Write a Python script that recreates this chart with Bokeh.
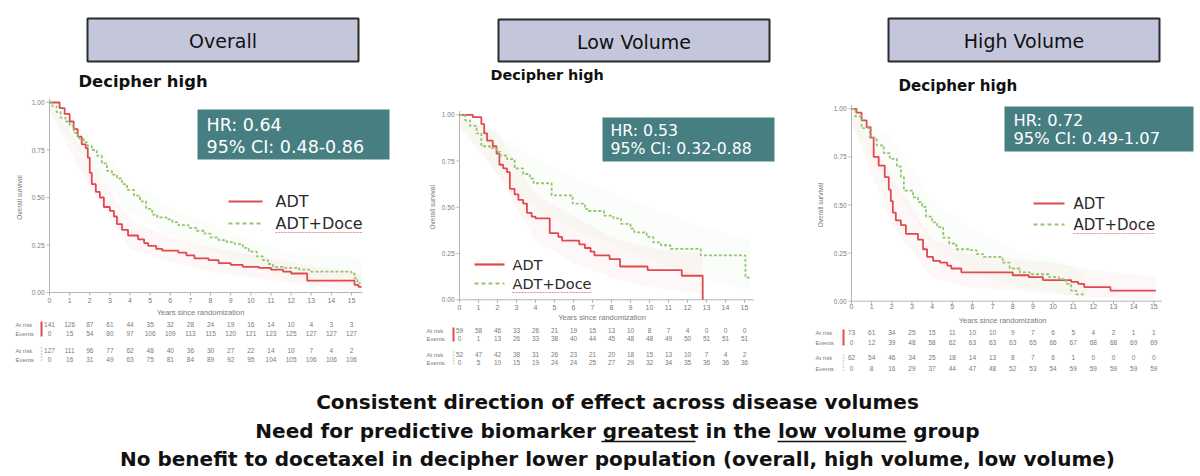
from bokeh.plotting import figure
from bokeh.models import Range1d
from bokeh.core.properties import value
from bokeh.embed import file_html
from bokeh.resources import INLINE

W, H = 1200, 476

# ---------------- data ----------------
years = list(range(16))
year_labels = [str(v) for v in years]
y_ticks = [0.0, 0.25, 0.5, 0.75, 1.0]
y_tick_labels = ["0.00", "0.25", "0.50", "0.75", "1.00"]

panel_titles = ["Overall", "Low Volume", "High Volume"]
subtitle = "Decipher high"
hr_text = ["HR: 0.64", "HR: 0.53", "HR: 0.72"]
ci_text = ["95% CI: 0.48-0.86", "95% CI: 0.32-0.88", "95% CI: 0.49-1.07"]
series_names = ["ADT", "ADT+Doce"]

# Overall
p1_adt_t = [0, 0.5, 0.75, 1.0, 1.2, 1.4, 1.6, 1.8, 1.9, 2.0, 2.1, 2.3, 2.5, 2.7, 3.0, 3.2, 3.35, 3.6, 3.9, 4.4, 4.7, 4.9,
            5.3, 5.6, 6.4, 6.8, 7.2, 7.9, 8.4, 9.0, 9.6, 10.4, 11.0, 11.6, 12.0, 12.8, 15.15, 15.35, 15.5]
p1_adt_s = [1.0, 0.97, 0.94, 0.90, 0.86, 0.82, 0.78, 0.76, 0.71, 0.63, 0.57, 0.53, 0.50, 0.45, 0.43, 0.40, 0.36, 0.33, 0.30,
            0.28, 0.26, 0.245, 0.23, 0.22, 0.21, 0.195, 0.18, 0.17, 0.155, 0.145, 0.135, 0.13, 0.12, 0.11, 0.10, 0.062,
            0.04, 0.03, 0.03]
p1_doce_t = [0, 0.15, 0.35, 0.55, 0.8, 1.0, 1.2, 1.4, 1.7, 1.9, 2.1, 2.35, 2.6, 2.85, 3.1, 3.35, 3.6, 3.85, 4.2, 4.5, 4.8,
             5.1, 5.35, 5.8, 6.1, 6.4, 6.9, 7.3, 7.7, 8.0, 8.4, 8.8, 9.2, 9.6, 9.9, 10.3, 10.6, 10.85, 11.1, 11.6, 12.4,
             12.9, 15.0, 15.15, 15.3, 15.45]
p1_doce_s = [1.0, 0.98, 0.95, 0.92, 0.90, 0.88, 0.84, 0.81, 0.79, 0.77, 0.75, 0.72, 0.68, 0.64, 0.62, 0.60, 0.57, 0.54,
             0.51, 0.48, 0.44, 0.41, 0.395, 0.385, 0.37, 0.355, 0.34, 0.325, 0.31, 0.29, 0.275, 0.265, 0.255, 0.235,
             0.215, 0.19, 0.17, 0.15, 0.135, 0.13, 0.12, 0.11, 0.10, 0.075, 0.05, 0.05]
p1_adt_band_t = [0, 2, 4, 6, 8, 10, 12, 15.5]
p1_adt_band_lo = [0.95, 0.55, 0.23, 0.16, 0.11, 0.08, 0.05, 0.0]
p1_adt_band_hi = [1.0, 0.70, 0.38, 0.29, 0.24, 0.20, 0.16, 0.10]
p1_doce_band_t = [0, 2, 4, 6, 8, 10, 12, 15.5]
p1_doce_band_lo = [0.95, 0.68, 0.42, 0.30, 0.22, 0.14, 0.06, 0.04]
p1_doce_band_hi = [1.0, 0.82, 0.58, 0.45, 0.36, 0.28, 0.20, 0.18]

# Low volume
p2_adt_t = [0, 0.7, 1.15, 1.3, 1.45, 1.75, 1.95, 2.1, 2.3, 2.5, 2.65, 2.9, 3.1, 3.35, 3.55, 3.8, 4.0, 4.75, 5.2, 5.4,
            6.3, 6.6, 6.9, 7.1, 7.9, 8.45, 9.9, 11.7, 12.8]
p2_adt_s = [1.0, 0.987, 0.95, 0.90, 0.86, 0.83, 0.79, 0.73, 0.71, 0.69, 0.60, 0.57, 0.54, 0.52, 0.47, 0.45, 0.44, 0.36,
            0.34, 0.32, 0.30, 0.28, 0.26, 0.24, 0.22, 0.18, 0.16, 0.13, 0.0]
p2_doce_t = [0, 0.3, 0.55, 0.9, 1.15, 1.6, 1.95, 2.15, 2.5, 2.9, 3.35, 3.7, 3.9, 4.85, 5.95, 6.6, 6.75, 7.6, 8.1, 8.5,
             9.0, 9.2, 9.85, 10.2, 10.6, 11.1, 12.7, 15.05, 15.35]
p2_doce_s = [1.0, 0.97, 0.94, 0.90, 0.83, 0.82, 0.80, 0.78, 0.76, 0.71, 0.68, 0.655, 0.63, 0.565, 0.52, 0.49, 0.48,
             0.455, 0.44, 0.41, 0.385, 0.365, 0.34, 0.31, 0.295, 0.275, 0.24, 0.12, 0.12]
p2_adt_band_t = [0, 2, 4, 6, 8, 10, 12.8]
p2_adt_band_lo = [0.95, 0.68, 0.32, 0.20, 0.12, 0.07, 0.03]
p2_adt_band_hi = [1.0, 0.90, 0.57, 0.45, 0.34, 0.28, 0.25]
p2_doce_band_t = [0, 2, 4, 6, 8, 10, 12, 15.3]
p2_doce_band_lo = [0.92, 0.68, 0.50, 0.38, 0.30, 0.22, 0.14, 0.05]
p2_doce_band_hi = [1.0, 0.90, 0.76, 0.66, 0.58, 0.50, 0.42, 0.32]

# High volume
p3_adt_t = [0, 0.25, 0.5, 0.75, 0.95, 1.1, 1.35, 1.65, 1.85, 1.95, 2.05, 2.2, 2.45, 2.7, 3.3, 3.55, 3.75, 4.05, 4.4,
            4.75, 4.95, 5.45, 8.0, 8.8, 9.5, 10.9, 11.25, 11.55, 12.85, 15.1]
p3_adt_s = [1.0, 0.98, 0.94, 0.905, 0.85, 0.75, 0.705, 0.645, 0.58, 0.52, 0.46, 0.42, 0.395, 0.35, 0.32, 0.27, 0.23,
            0.21, 0.20, 0.185, 0.17, 0.15, 0.135, 0.125, 0.11, 0.10, 0.09, 0.073, 0.055, 0.055]
p3_doce_t = [0, 0.2, 0.5, 0.9, 1.25, 1.6, 1.9, 2.25, 2.45, 2.6, 3.05, 3.3, 3.5, 3.7, 4.0, 4.25, 4.55, 4.85, 5.2, 5.9,
             6.2, 6.55, 7.5, 7.85, 8.35, 8.85, 9.8, 10.3, 10.65, 10.9, 11.15, 11.6]
p3_doce_s = [1.0, 0.96, 0.90, 0.85, 0.81, 0.77, 0.74, 0.70, 0.645, 0.575, 0.54, 0.515, 0.49, 0.44, 0.41, 0.385, 0.33,
             0.30, 0.27, 0.265, 0.245, 0.23, 0.20, 0.17, 0.15, 0.14, 0.125, 0.115, 0.09, 0.055, 0.035, 0.035]
p3_adt_band_t = [0, 2, 4, 6, 8, 10, 12, 15.1]
p3_adt_band_lo = [0.93, 0.40, 0.12, 0.07, 0.06, 0.04, 0.02, 0.01]
p3_adt_band_hi = [1.0, 0.65, 0.32, 0.24, 0.22, 0.20, 0.16, 0.13]
p3_doce_band_t = [0, 2, 4, 6, 8, 10, 11.6]
p3_doce_band_lo = [0.92, 0.60, 0.30, 0.15, 0.08, 0.05, 0.0]
p3_doce_band_hi = [1.0, 0.85, 0.52, 0.38, 0.27, 0.22, 0.15]

# risk tables
p1_adt_risk = [141, 126, 87, 61, 44, 35, 32, 28, 24, 19, 16, 14, 10, 4, 3, 3]
p1_adt_events = [0, 15, 54, 80, 97, 106, 109, 113, 115, 120, 121, 123, 125, 127, 127, 127]
p1_doce_risk = [127, 111, 96, 77, 62, 48, 40, 36, 30, 27, 22, 14, 10, 7, 4, 2]
p1_doce_events = [0, 16, 31, 49, 63, 75, 81, 84, 89, 92, 95, 104, 105, 106, 106, 106]
p2_adt_risk = [59, 58, 46, 33, 26, 21, 19, 15, 13, 10, 8, 7, 4, 0, 0, 0]
p2_adt_events = [0, 1, 13, 26, 33, 38, 40, 44, 45, 48, 48, 49, 50, 51, 51, 51]
p2_doce_risk = [52, 47, 42, 38, 31, 26, 23, 21, 20, 18, 15, 13, 10, 7, 4, 2]
p2_doce_events = [0, 5, 10, 15, 19, 24, 24, 25, 27, 29, 32, 34, 35, 36, 36, 36]
p3_adt_risk = [73, 61, 34, 25, 15, 11, 10, 10, 9, 7, 6, 5, 4, 2, 1, 1]
p3_adt_events = [0, 12, 39, 48, 58, 62, 63, 63, 63, 65, 66, 67, 68, 68, 69, 69]
p3_doce_risk = [62, 54, 46, 34, 25, 18, 14, 13, 8, 7, 6, 1, 0, 0, 0, 0]
p3_doce_events = [0, 8, 16, 29, 37, 44, 47, 48, 52, 53, 54, 59, 59, 59, 59, 59]

footer_lines = ["Consistent direction of effect across disease volumes",
                "Need for predictive biomarker greatest in the low volume group",
                "No benefit to docetaxel in decipher lower population (overall, high volume, low volume)"]

# ---------------- layout / style ----------------
RED = "#e04a4f"
GREEN = "#93c66f"
GREY = "#7a7a7a"
TEAL = "#467e82"
HEAD_FILL = "#c4c7db"

L = [
    dict(px0=49, px15=351, py1=102, py0=292, xend=15.55, box=(87, 358, 18, 61), sub=(78, 81), sub_fs="16.4px",
         hr=(197, 389, 109, 159), hr_x=206, hr_y=(124, 146), hr_fs="17.5px",
         leg_x=(228, 262, 275), leg_y=(201, 223), leg_fs="16px",
         tick_y=300, title_y=312, rows=(324, 333, 350, 359), lab_x=15, bar_x=41, ytitle_x=19,
         data=(p1_adt_t, p1_adt_s, p1_doce_t, p1_doce_s),
         bands=((p1_adt_band_t, p1_adt_band_lo, p1_adt_band_hi), (p1_doce_band_t, p1_doce_band_lo, p1_doce_band_hi)),
         risk=(p1_adt_risk, p1_adt_events, p1_doce_risk, p1_doce_events)),
    dict(px0=459, px15=744, py1=114.3, py0=299.3, xend=15.5, box=(498, 769, 19, 61), sub=(490, 74), sub_fs="14.4px",
         hr=(602, 774, 117, 161), hr_x=610, hr_y=(130, 148), hr_fs="15.7px",
         leg_x=(474, 504, 512), leg_y=(264, 283), leg_fs="14.5px",
         tick_y=307, title_y=317, rows=(330, 338, 354, 362), lab_x=426, bar_x=453, ytitle_x=432,
         data=(p2_adt_t, p2_adt_s, p2_doce_t, p2_doce_s),
         bands=((p2_adt_band_t, p2_adt_band_lo, p2_adt_band_hi), (p2_doce_band_t, p2_doce_band_lo, p2_doce_band_hi)),
         risk=(p2_adt_risk, p2_adt_events, p2_doce_risk, p2_doce_events)),
    dict(px0=851, px15=1153.3, py1=108.3, py0=300.7, xend=15.4, box=(888, 1159, 18, 61), sub=(898, 85), sub_fs="15.1px",
         hr=(1004, 1193, 106, 151), hr_x=1013, hr_y=(120, 138), hr_fs="16.3px",
         leg_x=(1033, 1064, 1073), leg_y=(203, 224), leg_fs="15px",
         tick_y=306, title_y=320, rows=(332, 342, 357, 368), lab_x=815, bar_x=843, ytitle_x=820,
         data=(p3_adt_t, p3_adt_s, p3_doce_t, p3_doce_s),
         bands=((p3_adt_band_t, p3_adt_band_lo, p3_adt_band_hi), (p3_doce_band_t, p3_doce_band_lo, p3_doce_band_hi)),
         risk=(p3_adt_risk, p3_adt_events, p3_doce_risk, p3_doce_events)),
]

p = figure(width=W, height=H, x_range=Range1d(0, W), y_range=Range1d(H, 0),
           output_backend="svg", toolbar_location=None, min_border=0,
           x_axis_location=None, y_axis_location=None, background_fill_color="white")
p.grid.visible = False
p.outline_line_color = None

SMALL = value("Liberation Sans")
MAIN = value("DejaVu Sans")


def txt(x, y, t, size, color="#222", align="left", baseline="middle", font=MAIN, style="normal",
        xr="default", yr="default", angle=0.0):
    p.text(x=x, y=y, text=t, text_font=font, text_font_size=value(size), text_color=color,
           text_align=value(align), text_baseline=value(baseline), text_font_style=value(style),
           angle=angle, x_range_name=xr, y_range_name=yr)


for i, c in enumerate(L):
    key = "p%d" % (i + 1)
    sx = (c["px15"] - c["px0"]) / 15.0
    sy = c["py0"] - c["py1"]
    p.extra_x_ranges[key] = Range1d(-c["px0"] / sx, (W - c["px0"]) / sx)
    p.extra_y_ranges[key] = Range1d((c["py0"] - H) / sy, c["py0"] / sy)

    # header box
    l, r, t, b = c["box"]
    p.quad(left=[l], right=[r], top=[t], bottom=[b], fill_color=HEAD_FILL, line_color="#2b2b2b", line_width=2)
    txt([(l + r) / 2], [(t + b) / 2 + 1], [panel_titles[i]], "19px", color="#111", align="center")
    txt([c["sub"][0]], [c["sub"][1]], [subtitle], c["sub_fs"], color="#111", style="bold")

    # confidence bands
    for (bt, blo, bhi), col in zip(c["bands"], (RED, GREEN)):
        p.varea(x=bt, y1=blo, y2=bhi, fill_color=col, fill_alpha=0.045, x_range_name=key, y_range_name=key)

    # axes
    p.segment(x0=[-0.05], y0=[0], x1=[c["xend"]], y1=[0], line_color="#b5b5b5", line_width=1,
              x_range_name=key, y_range_name=key)
    p.segment(x0=[0], y0=[0], x1=[0], y1=[1.02], line_color="#b5b5b5", line_width=1,
              x_range_name=key, y_range_name=key)
    p.segment(x0=years, y0=[c["py0"]] * 16, x1=years, y1=[c["py0"] + 3] * 16, line_color="#b5b5b5",
              x_range_name=key)
    p.segment(x0=[c["px0"] - 3] * 5, y0=y_ticks, x1=[c["px0"]] * 5, y1=y_ticks, line_color="#b5b5b5",
              y_range_name=key)
    txt(years, [c["tick_y"]] * 16, year_labels, "7px", color=GREY, align="center", font=SMALL, xr=key)
    txt([c["px0"] - 5] * 5, y_ticks, y_tick_labels, "6.5px", color=GREY, align="right", font=SMALL, yr=key)
    txt([7.5], [c["title_y"]], ["Years since randomization"], "7.5px", color=GREY, align="center",
        font=SMALL, xr=key)
    txt([c["ytitle_x"]], [0.5], ["Overall survival"], "6.5px", color=GREY, align="center", font=SMALL,
        yr=key, angle=1.5708)

    # curves
    at, as_, dt, ds = c["data"]
    p.step(x=at, y=as_, mode="after", line_color=RED, line_width=1.8, x_range_name=key, y_range_name=key)
    p.step(x=dt, y=ds, mode="after", line_color=GREEN, line_width=1.8, line_dash="3 2",
           x_range_name=key, y_range_name=key)

    # HR box
    l, r, t, b = c["hr"]
    p.quad(left=[l], right=[r], top=[t], bottom=[b], fill_color=TEAL, line_color=None)
    txt([c["hr_x"]] * 2, list(c["hr_y"]), [hr_text[i], ci_text[i]], c["hr_fs"], color="white")

    # legend
    x0, x1, xt = c["leg_x"]
    ya, yd = c["leg_y"]
    p.segment(x0=[x0], y0=[ya], x1=[x1], y1=[ya], line_color=RED, line_width=2.2)
    p.segment(x0=[x0], y0=[yd], x1=[x1], y1=[yd], line_color=GREEN, line_width=2.2, line_dash="4 3")
    txt([xt, xt], [ya, yd], series_names, c["leg_fs"], color="#2a2a2a")
    wq = float(c["leg_fs"][:-2]) * 5.45
    p.segment(x0=[xt], y0=[yd + 9], x1=[xt + wq], y1=[yd + 9], line_color="#e07070", line_width=0.8,
              line_dash="2 1")

    # risk table
    r1, r2, r3, r4 = c["rows"]
    ar, ev, dr, de = c["risk"]
    txt([c["lab_x"]] * 4, [r1, r2, r3, r4], ["At risk", "Events", "At risk", "Events"], "6px",
        color=GREY, font=SMALL)
    txt(years, [r1] * 16, [str(v) for v in ar], "6.5px", color=GREY, align="center", font=SMALL, xr=key)
    txt(years, [r2] * 16, [str(v) for v in ev], "6.5px", color=GREY, align="center", font=SMALL, xr=key)
    txt(years, [r3] * 16, [str(v) for v in dr], "6.5px", color=GREY, align="center", font=SMALL, xr=key)
    txt(years, [r4] * 16, [str(v) for v in de], "6.5px", color=GREY, align="center", font=SMALL, xr=key)
    p.segment(x0=[c["bar_x"]], y0=[r1 - 3], x1=[c["bar_x"]], y1=[r2 + 3], line_color=RED, line_width=2)
    p.segment(x0=[c["bar_x"]], y0=[r3 - 3], x1=[c["bar_x"]], y1=[r4 + 3], line_color=GREEN, line_width=1.5,
              line_dash="1 2")

# footer
txt([617, 617, 617], [401, 430, 458], footer_lines, "20px", color="#111", align="center", style="bold")
p.segment(x0=[601, 777], y0=[441, 441], x1=[695, 906], y1=[441, 441], line_color="#111", line_width=1.5)

open("out.html", "w").write(file_html(p, INLINE))
